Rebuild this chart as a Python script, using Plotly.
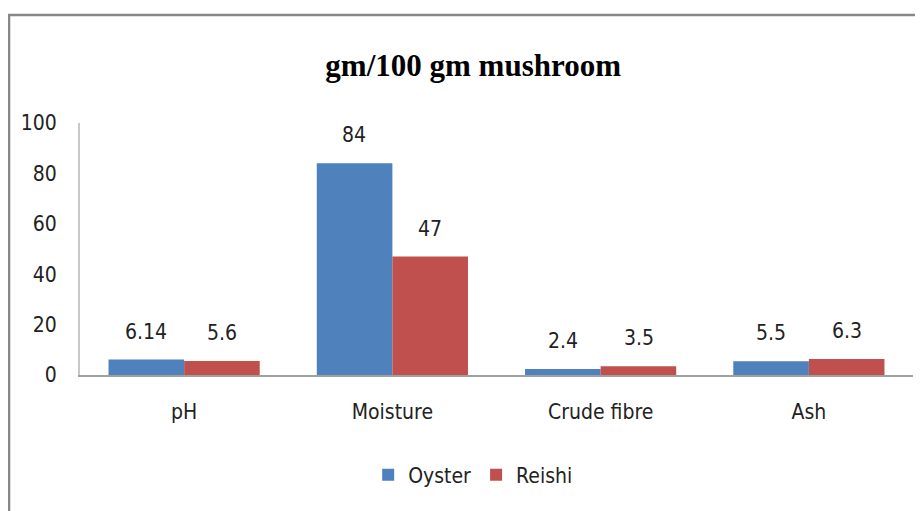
import plotly.graph_objects as go

categories = ["pH", "Moisture", "Crude fibre", "Ash"]
oyster = [6.14, 84, 2.4, 5.5]
reishi = [5.6, 47, 3.5, 6.3]
oyster_labels = ["6.14", "84", "2.4", "5.5"]
reishi_labels = ["5.6", "47", "3.5", "6.3"]
y_ticks = [0, 20, 40, 60, 80, 100]

FONT = "Liberation Sans Narrow, DejaVu Sans Condensed, Arial Narrow, sans-serif"
BLUE = "#4F81BD"
RED = "#C0504D"
TXT = "#222222"

fig = go.Figure()
fig.add_trace(go.Bar(name="Oyster", x=categories, y=oyster, marker_color=BLUE,
                     marker_line_width=0))
fig.add_trace(go.Bar(name="Reishi", x=categories, y=reishi, marker_color=RED,
                     marker_line_width=0))

# data labels above bars
for cat, v, t in zip(categories, oyster, oyster_labels):
    fig.add_annotation(x=cat, y=v, text=t, showarrow=False, xshift=-38, yshift=28,
                       font=dict(family=FONT, size=21, color=TXT))
for cat, v, t in zip(categories, reishi, reishi_labels):
    fig.add_annotation(x=cat, y=v, text=t, showarrow=False, xshift=38, yshift=28,
                       font=dict(family=FONT, size=21, color=TXT))

fig.update_layout(
    width=923, height=511,
    margin=dict(l=72, r=18, t=115, b=144),
    paper_bgcolor="white", plot_bgcolor="white",
    barmode="group", bargap=0.274, bargroupgap=0,
    title=dict(text="<b>gm/100 gm mushroom</b>", x=0.504, xanchor="center",
               y=0.888, yanchor="middle",
               font=dict(family="Liberation Serif, Times New Roman, serif", size=31, color="black")),
    font=dict(family=FONT, size=21, color=TXT),
    showlegend=True,
    legend=dict(orientation="h", x=0.472, y=-0.397, xanchor="center", yanchor="middle",
                font=dict(family=FONT, size=21, color=TXT), itemwidth=30,
                tracegroupgap=0, bgcolor="rgba(0,0,0,0)"),
    xaxis=dict(showline=True, linecolor="#A0A0A0", linewidth=2, ticks="",
               showgrid=False, tickfont=dict(family=FONT, size=21, color=TXT),
               ticklabelstandoff=17),
    yaxis=dict(range=[0, 100], tickvals=y_ticks, showline=True, linecolor="#C8C8C8",
               linewidth=2, ticks="", showgrid=False, zeroline=False,
               tickfont=dict(family=FONT, size=21, color=TXT),
               ticklabelstandoff=17),
    shapes=[dict(type="rect", xref="paper", yref="paper",
                 x0=-0.0852, x1=1.05, y0=-0.7, y1=1.4286,
                 line=dict(color="#888888", width=2.5), fillcolor="rgba(0,0,0,0)",
                 layer="below")],
)

fig.write_html("out.html")
